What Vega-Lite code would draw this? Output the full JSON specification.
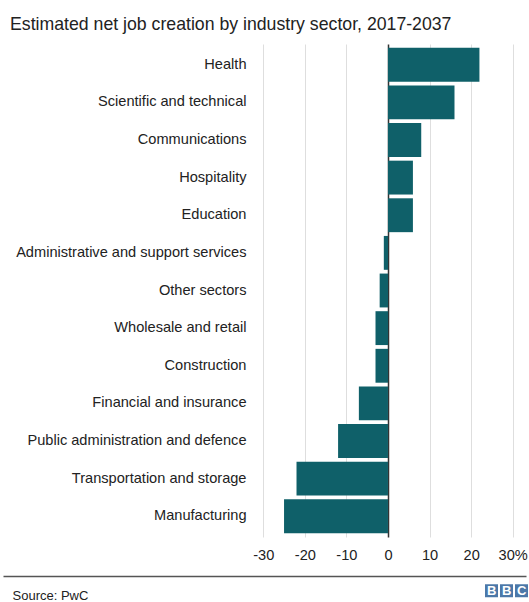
{
  "$schema": "https://vega.github.io/schema/vega-lite/v6.json",
  "autosize": {"type": "none"},
  "width": 523,
  "height": 493,
  "padding": {"left": 3, "top": 44, "right": 3, "bottom": 65},
  "background": "white",
  "config": {
    "font": "Liberation Sans",
    "view": {"stroke": null}
  },
  "title": {
    "text": "Estimated net job creation by industry sector, 2017-2037",
    "anchor": "start",
    "frame": "group",
    "dx": 7,
    "dy": 22,
    "offset": 18,
    "baseline": "alphabetic",
    "fontSize": 17.7,
    "fontWeight": "normal",
    "color": "#222222",
    "font": "Liberation Sans"
  },
  "layer": [
    {
      "data": {
        "values": [
          {"sector": "Health", "pct": 22},
          {"sector": "Scientific and technical", "pct": 16},
          {"sector": "Communications", "pct": 8},
          {"sector": "Hospitality", "pct": 6},
          {"sector": "Education", "pct": 6},
          {"sector": "Administrative and support services", "pct": -1},
          {"sector": "Other sectors", "pct": -2},
          {"sector": "Wholesale and retail", "pct": -3},
          {"sector": "Construction", "pct": -3},
          {"sector": "Financial and insurance", "pct": -7},
          {"sector": "Public administration and defence", "pct": -12},
          {"sector": "Transportation and storage", "pct": -22},
          {"sector": "Manufacturing", "pct": -25}
        ]
      },
      "mark": {"type": "bar", "color": "#0f6069"},
      "encoding": {
        "y": {
          "field": "sector",
          "type": "nominal",
          "sort": null,
          "scale": {"paddingInner": 0.1, "paddingOuter": 0.1},
          "axis": {
            "title": null,
            "orient": "left",
            "domain": false,
            "ticks": false,
            "tickSize": 0,
            "grid": false,
            "labelPadding": -243,
            "labelLimit": 400,
            "labelFontSize": 14.6,
            "labelColor": "#222222",
            "labelFont": "Liberation Sans"
          }
        },
        "x": {
          "field": "pct",
          "type": "quantitative",
          "scale": {"domain": [-92.6, 33.2], "nice": false, "zero": false},
          "axis": {
            "orient": "bottom",
            "values": [-30, -20, -10, 0, 10, 20, 30],
            "offset": 39,
            "domain": true,
            "domainColor": "#555555",
            "domainWidth": 1.5,
            "ticks": false,
            "tickSize": 0,
            "grid": true,
            "gridColor": {"condition": {"test": "datum.value === 0", "value": "#333333"}, "value": "#dedede"},
            "gridWidth": {"condition": {"test": "datum.value === 0", "value": 1.5}, "value": 1},
            "labelPadding": -21,
            "labelBaseline": "middle",
            "labelFontSize": 14.6,
            "labelColor": "#222222",
            "labelFont": "Liberation Sans",
            "labelExpr": "datum.value === 30 ? '30%' : (datum.value < 0 ? '-' + abs(datum.value) : '' + datum.value)",
            "title": "Source: PwC",
            "titleX": 9,
            "titleY": 19,
            "titleAlign": "left",
            "titleBaseline": "middle",
            "titleFontSize": 13,
            "titleFontWeight": "normal",
            "titleColor": "#222222",
            "titleFont": "Liberation Sans"
          }
        }
      }
    },
    {
      "data": {"values": [{"logo": "B1"}, {"logo": "B2"}, {"logo": "C"}]},
      "mark": {"type": "point", "filled": true, "opacity": 0},
      "encoding": {
        "shape": {
          "field": "logo",
          "type": "nominal",
          "scale": {"domain": ["B1", "B2", "C"], "range": ["square", "square", "square"]},
          "legend": {
            "title": null,
            "orient": "none",
            "legendX": 482,
            "legendY": 540,
            "direction": "horizontal",
            "columns": 3,
            "columnPadding": 2,
            "symbolSize": 169,
            "symbolFillColor": "#333333",
            "symbolStrokeColor": "#333333",
            "symbolStrokeWidth": 0,
            "symbolOpacity": 1,
            "labelOffset": -11,
            "labelColor": "white",
            "labelFontSize": 13,
            "labelFontWeight": "bold",
            "labelFont": "Liberation Sans",
            "labelExpr": "datum.value === 'C' ? 'C' : 'B'"
          }
        }
      }
    }
  ]
}
